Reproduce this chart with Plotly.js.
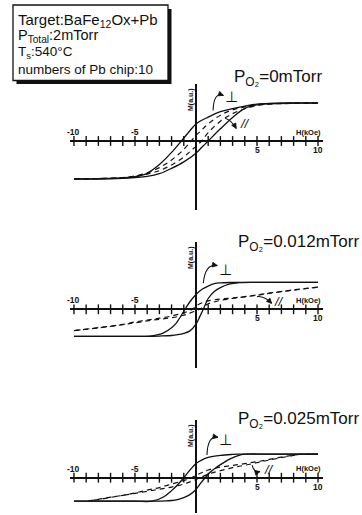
<!DOCTYPE html>
<html>
<head>
<meta charset="utf-8">
<script src="https://cdn.plot.ly/plotly-3.0.1.min.js"></script>
<style>html,body{margin:0;padding:0;background:#fff;}#chart{width:362px;height:515px;}</style>
</head>
<body>
<div id="chart"></div>
<script>
// ---------------- DATA ----------------
// Panel 1: P_O2 = 0 mTorr
const p1PerpDownH = [10, 8, 6, 5, 4, 3, 2, 1, 0, -0.5, -1.2, -2, -3, -4, -5, -6, -8, -10];
const p1PerpDownM = [1.0, 1.0, 0.99, 0.97, 0.92, 0.85, 0.77, 0.63, 0.45, 0.27, 0.0, -0.3, -0.62, -0.85, -0.94, -0.97, -0.99, -1.0];
const p1PerpUpH = [-10, -8, -6, -5, -4, -3, -2, -1, 0, 0.5, 1.0, 2, 3, 4, 5, 6, 8, 10];
const p1PerpUpM = [-1.0, -1.0, -0.98, -0.96, -0.93, -0.86, -0.72, -0.55, -0.32, -0.16, 0.0, 0.32, 0.62, 0.86, 0.95, 0.98, 0.995, 1.0];
const p1ParDownH = [10, 8, 6, 5, 4, 3, 2, 1, 0.5, 0, -0.4, -1, -2, -3, -4, -5, -6, -8, -10];
const p1ParDownM = [1.0, 0.995, 0.98, 0.96, 0.9, 0.82, 0.68, 0.45, 0.3, 0.15, 0.0, -0.22, -0.5, -0.7, -0.84, -0.92, -0.96, -0.99, -1.0];
const p1ParUpH = [-10, -8, -6, -5, -4, -3, -2, -1, -0.5, 0, 0.45, 1, 2, 3, 4, 5, 6, 8, 10];
const p1ParUpM = [-1.0, -0.99, -0.97, -0.93, -0.87, -0.78, -0.63, -0.42, -0.28, -0.14, 0.0, 0.22, 0.52, 0.72, 0.85, 0.93, 0.97, 0.99, 1.0];

// Panel 2: P_O2 = 0.012 mTorr
const p2PerpDownH = [10, 6, 4, 3, 2, 1.5, 1, 0.5, 0, -0.5, -0.9, -1.6, -2, -2.7, -3.2, -3.8, -5, -7, -10];
const p2PerpDownM = [1, 1, 1, 0.995, 0.98, 0.95, 0.86, 0.74, 0.55, 0.28, 0, -0.5, -0.68, -0.88, -0.95, -0.99, -1, -1, -1];
const p2PerpUpH = [-10, -6, -4, -3, -2, -1.5, -1, -0.5, 0, 0.3, 0.6, 1, 1.5, 2, 2.7, 3.6, 5, 7, 10];
const p2PerpUpM = [-1, -1, -1, -0.99, -0.97, -0.94, -0.89, -0.8, -0.55, -0.28, 0, 0.4, 0.66, 0.8, 0.93, 0.99, 1, 1, 1];
const p2ParDownH = [10, 8, 6, 5, 4, 3, 2, 1, 0.5, 0, -0.3, -1, -2, -3, -4, -5, -6, -8, -10];
const p2ParDownM = [0.82, 0.72, 0.6, 0.53, 0.47, 0.42, 0.38, 0.31, 0.24, 0.12, 0, -0.13, -0.25, -0.33, -0.4, -0.47, -0.56, -0.68, -0.79];
const p2ParUpH = [-10, -8, -6, -5, -4, -3, -2, -1, -0.5, 0, 0.3, 1, 2, 3, 4, 5, 6, 8, 10];
const p2ParUpM = [-0.79, -0.69, -0.57, -0.5, -0.43, -0.37, -0.31, -0.22, -0.14, -0.05, 0, 0.2, 0.33, 0.4, 0.46, 0.52, 0.59, 0.71, 0.82];

// Panel 3: P_O2 = 0.025 mTorr
const p3PerpDownH = [10, 6, 4, 3.5, 3, 2, 1, 0.5, 0, -0.5, -1, -1.5, -2, -2.7, -3.6, -5, -7, -10];
const p3PerpDownM = [1, 1, 1, 1, 0.99, 0.95, 0.86, 0.76, 0.6, 0.32, 0, -0.3, -0.55, -0.83, -1, -1, -1, -1];
const p3PerpUpH = [-10, -6, -4, -3, -2.5, -2, -1.5, -1, -0.5, 0, 0.4, 0.75, 1.2, 1.7, 2.2, 2.8, 3.4, 4, 6, 10];
const p3PerpUpM = [-1, -1, -1, -1, -0.99, -0.97, -0.93, -0.85, -0.72, -0.5, -0.22, 0, 0.25, 0.45, 0.62, 0.8, 0.93, 1, 1, 1];
const p3ParDownH = [10, 8.5, 7.5, 6, 5, 4, 3, 2, 1, 0.5, 0, -0.35, -1, -2, -3, -4, -5, -6, -7, -8, -8.8];
const p3ParDownM = [1, 0.99, 0.92, 0.78, 0.68, 0.6, 0.52, 0.45, 0.33, 0.22, 0.1, 0, -0.12, -0.27, -0.42, -0.53, -0.65, -0.75, -0.84, -0.93, -0.98];
const p3ParUpH = [-8.8, -8, -7, -6, -5, -4, -3, -2, -1, -0.5, 0, 0.35, 1, 2, 3, 4, 5, 6, 7.5, 8.5, 10];
const p3ParUpM = [-0.98, -0.92, -0.83, -0.75, -0.67, -0.58, -0.49, -0.4, -0.27, -0.18, -0.08, 0, 0.15, 0.3, 0.43, 0.53, 0.64, 0.75, 0.9, 0.99, 1];

// Axis ticks and labels
const minorTickH = [-10, -9, -8, -7, -6, -5, -4, -3, -2, -1, 1, 2, 3, 4, 5, 6, 7, 8, 9, 10];
const tickLabelH = [-10, -5, 5, 10];
const tickLabelText = ['-10', '-5', '5', '10'];
const panelTitles = ['P<sub>O₂</sub>=0mTorr', 'P<sub>O₂</sub>=0.012mTorr', 'P<sub>O₂</sub>=0.025mTorr'];
const boxLines = ['Target:BaFe<sub>12</sub>Ox+Pb', 'P<sub>Total</sub>:2mTorr', 'T<sub>s</sub>:540°C', 'numbers of Pb chip:10'];

// ---------------- LAYOUT HELPERS ----------------
const W = 362, Hh = 515;
const px = v => v / W;
const py = v => 1 - v / Hh;
const FONT = 'Liberation Sans, Arial, Helvetica, sans-serif';

const panels = [
  {perpD:[p1PerpDownH,p1PerpDownM], perpU:[p1PerpUpH,p1PerpUpM], parD:[p1ParDownH,p1ParDownM], parU:[p1ParUpH,p1ParUpM],
   top:84, bottom:210, zero:141, ms:38, titleY:78,
   perp:{t:[2.95,1.16], tail:[1.4,0.8], ctrl:[1.45,1.3], head:[2.25,1.2]},
   par:{t:[4.05,0.45], tail:[2.4,0.6], ctrl:[2.9,0.55], head:[3.3,0.33]}},
  {perpD:[p2PerpDownH,p2PerpDownM], perpU:[p2PerpUpH,p2PerpUpM], parD:[p2ParDownH,p2ParDownM], parU:[p2ParUpH,p2ParUpM],
   top:242, bottom:368, zero:309.3, ms:27, titleY:243,
   perp:{t:[2.45,1.45], tail:[0.6,0.97], ctrl:[0.75,1.7], head:[1.75,1.62]},
   par:{t:[6.8,0.28], tail:[5.0,0.47], ctrl:[5.6,0.5], head:[6.2,0.22]}},
  {perpD:[p3PerpDownH,p3PerpDownM], perpU:[p3PerpUpH,p3PerpUpM], parD:[p3ParDownH,p3ParDownM], parU:[p3ParUpH,p3ParUpM],
   top:420, bottom:513, zero:477.7, ms:23.5, titleY:420,
   perp:{t:[2.45,1.62], tail:[0.9,0.97], ctrl:[0.95,1.8], head:[1.8,1.72]},
   par:{t:[5.95,0.33], tail:[4.6,0.54], ctrl:[4.75,0.2], head:[5.25,0.26]}}
];

const xLeftPx = 70.3, xRightPx = 322.9, xMin = -10.3, xMax = 10.4;
const unitPx = (xRightPx - xLeftPx) / (xMax - xMin);

const traces = [];
const layout = {
  width: W, height: Hh,
  margin: {l:0, r:0, t:0, b:0},
  paper_bgcolor: '#fff', plot_bgcolor: 'rgba(0,0,0,0)',
  showlegend: false,
  annotations: [], shapes: []
};

panels.forEach((p, i) => {
  const n = i === 0 ? '' : String(i + 1);
  const xa = 'x' + n, ya = 'y' + n;
  const solid = {color:'#111', width:1.3};
  const dash = {color:'#111', width:1.2, dash:'5px,4px'};
  [[p.perpD, solid], [p.perpU, solid], [p.parD, dash], [p.parU, dash]].forEach(([d, ln]) => {
    traces.push({type:'scatter', mode:'lines', x:d[0], y:d[1], xaxis:xa, yaxis:ya,
      line:Object.assign({shape:'spline', smoothing:1.0}, ln), hoverinfo:'skip', cliponaxis:false});
  });
  // crossing tick marks on the H axis
  traces.push({type:'scatter', mode:'markers', x:minorTickH, y:minorTickH.map(() => 0), xaxis:xa, yaxis:ya,
    marker:{symbol:'line-ns-open', size:7, color:'#111', line:{width:1.4, color:'#111'}}, hoverinfo:'skip', cliponaxis:false});

  const yTop = (p.zero - p.top) / p.ms, yBot = -(p.bottom - p.zero) / p.ms;
  layout['xaxis' + n] = {domain:[px(xLeftPx), px(xRightPx)], range:[xMin, xMax], anchor:ya,
    showgrid:false, showticklabels:false, ticks:'', showline:false, zeroline:true, zerolinewidth:2, zerolinecolor:'#111', fixedrange:true};
  layout['yaxis' + n] = {domain:[py(p.bottom), py(p.top)], range:[yBot, yTop], anchor:xa,
    showgrid:false, showticklabels:false, ticks:'', showline:false, zeroline:true, zerolinewidth:2, zerolinecolor:'#111', fixedrange:true};

  // tick labels
  tickLabelH.forEach((h, k) => {
    layout.annotations.push({xref:xa, yref:ya, x:h, y:0, text:tickLabelText[k], showarrow:false,
      yshift: h < 0 ? 9 : -9, font:{family:FONT, size:8.5, color:'#111', weight:'bold'}});
  });
  layout.annotations.push({xref:xa, yref:ya, x:9.2, y:0, text:'H(kOe)', showarrow:false, yshift:9,
    font:{family:FONT, size:7.5, color:'#111', weight:'bold'}});
  // M(a.u.) vertical label
  layout.annotations.push({xref:'paper', yref:'paper', x:px(190.5), y:py(p.top + 2), yanchor:'top', text:'M(a.u.)', showarrow:false, textangle:-90,
    font:{family:FONT, size:7, color:'#111', weight:'bold'}});
  // panel title
  layout.annotations.push({xref:'paper', yref:'paper', x:px(i === 0 ? 232 : 236), y:py(p.titleY), xanchor:'left', yanchor:'middle',
    text:panelTitles[i], showarrow:false, font:{family:FONT, size:17, color:'#111'}});
  // perpendicular / parallel labels with curved arrows
  layout.annotations.push({xref:xa, yref:ya, x:p.perp.t[0], y:p.perp.t[1], text:'⊥', showarrow:false,
    font:{family:'DejaVu Sans, sans-serif', size:15, color:'#111'}});
  layout.annotations.push({xref:xa, yref:ya, x:p.par.t[0], y:p.par.t[1], text:'<i>//</i>', showarrow:false,
    font:{family:FONT, size:13, color:'#111'}});
  [p.perp, p.par].forEach(a => {
    layout.shapes.push({type:'path', xref:xa, yref:ya, layer:'above',
      path:`M ${a.tail[0]},${a.tail[1]} Q ${a.ctrl[0]},${a.ctrl[1]} ${a.head[0]},${a.head[1]}`,
      line:{color:'#111', width:1.1}});
    // triangular arrow head along the end tangent (computed in pixel space, converted back to data)
    const dxp = (a.head[0] - a.ctrl[0]) * unitPx, dyp = (a.head[1] - a.ctrl[1]) * p.ms;
    const L = Math.hypot(dxp, dyp), ux = dxp / L, uy = dyp / L;
    const len = 5, hw = 2.4;
    const bx = -ux * len, by = -uy * len;
    const pts = [[0, 0], [bx - uy * hw, by + ux * hw], [bx + uy * hw, by - ux * hw]]
      .map(([qx, qy]) => [a.head[0] + qx / unitPx, a.head[1] + qy / p.ms]);
    layout.shapes.push({type:'path', xref:xa, yref:ya, layer:'above',
      path:`M ${pts[0][0]},${pts[0][1]} L ${pts[1][0]},${pts[1][1]} L ${pts[2][0]},${pts[2][1]} Z`,
      fillcolor:'#111', line:{color:'#111', width:0.8}});
  });
});

// text box with drop shadow
layout.shapes.push({type:'rect', xref:'paper', yref:'paper', x0:px(16.5), x1:px(171.5), y0:py(84), y1:py(9),
  fillcolor:'#111', line:{width:0}, layer:'above'});
layout.shapes.push({type:'rect', xref:'paper', yref:'paper', x0:px(13), x1:px(168), y0:py(80.5), y1:py(5),
  fillcolor:'#fff', line:{width:1.3, color:'#111'}, layer:'above'});
const boxY = [20.5, 36.5, 52, 70];
const boxSize = [15, 14.5, 13.5, 13.5];
boxLines.forEach((t, k) => {
  layout.annotations.push({xref:'paper', yref:'paper', x:px(15.5), y:py(boxY[k]), xanchor:'left', yanchor:'middle',
    text:t, showarrow:false, font:{family:FONT, size:boxSize[k], color:'#111'}});
});

Plotly.newPlot('chart', traces, layout, {staticPlot:true, displayModeBar:false});
</script>
</body>
</html>
